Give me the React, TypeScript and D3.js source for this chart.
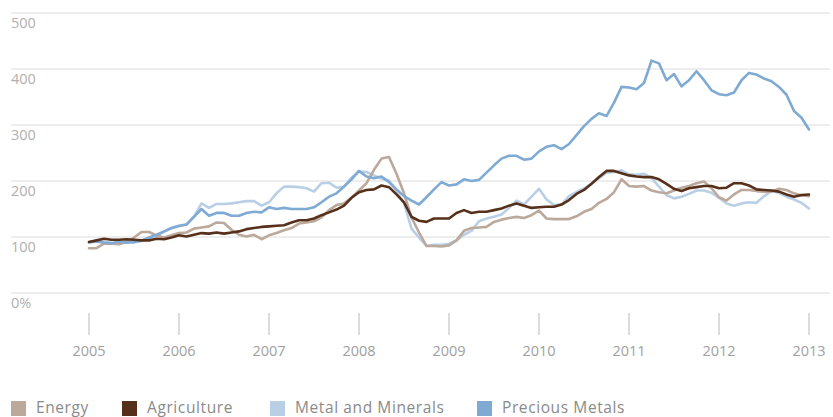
import React from "react";
import * as d3 from "d3";

const startYear = 2005;
const yearTicks = [2005, 2006, 2007, 2008, 2009, 2010, 2011, 2012, 2013];
const yTicks = [0, 100, 200, 300, 400, 500];

const energy = [
  80, 80, 88, 88, 87, 91, 99, 109, 109, 103, 99, 103,
  107, 108, 115, 117, 119, 126, 125, 113, 104, 101, 104, 96,
  103, 107, 112, 116, 124, 126, 128, 135, 148, 157, 160, 170,
  183, 196, 220, 240, 243, 213, 178, 135, 108, 84, 84, 83,
  85, 94, 111, 116, 117, 118, 127, 131, 134, 136, 134, 139,
  147, 133, 132, 132, 132, 137, 145, 150, 161, 168, 180, 203,
  191, 190, 191, 183, 180, 178, 183, 188, 191, 196, 199, 187,
  171, 165, 176, 184, 184, 182, 181, 181, 186, 184, 178, 174,
  173,
];

const agriculture = [
  91, 94, 97, 95, 95, 96, 95, 94, 94, 97, 96, 99,
  103, 101, 104, 107, 106, 108, 106, 108, 110, 114, 116, 118,
  119, 120, 121, 126, 130, 130, 133, 139, 144, 149, 156, 170,
  180, 184, 185, 192, 189, 176, 162, 136, 129, 127, 133, 133,
  133, 143, 148, 143, 145, 145, 148, 151, 156, 160, 156, 152,
  153, 154, 154, 158, 166, 177, 184, 195, 207, 218, 218, 214,
  210, 208, 207, 207, 203, 195, 186, 182, 187, 189, 191, 191,
  187, 188, 196, 196, 192, 185, 184, 183, 181, 176, 172, 175,
  176,
];

const metals = [
  90, 92, 91, 89, 88, 92, 90, 93, 98, 103, 109, 116,
  119, 123, 137, 160, 152, 159, 159, 160, 162, 164, 164, 156,
  162, 178, 190, 190, 189, 187, 181, 196, 197, 188, 190, 206,
  217, 216, 210, 204, 201, 182, 160, 115, 99, 84, 86, 86,
  88, 94, 104, 111, 128, 133, 136, 140, 152, 165, 158, 172,
  186, 167, 157, 158, 173, 180, 187, 195, 205, 215, 216, 219,
  212, 211, 213, 205, 190, 175, 169, 172, 177, 183, 183, 179,
  170, 160, 156, 160, 162, 161, 173, 182, 179, 172, 167, 161,
  151,
];

const precious = [
  91, 92, 90, 89, 92, 90, 91, 94, 99, 104, 110, 116,
  120, 122, 136, 150, 138, 143, 143, 138, 138, 143, 145, 144,
  153, 150, 152, 150, 150, 150, 153, 162, 172, 178, 190, 203,
  218, 208, 205, 208, 198, 185, 173, 165, 158, 171, 185, 198,
  192, 194, 203, 200, 202, 215, 228, 240, 245, 245, 238, 240,
  253, 261, 264, 257, 266, 282, 298, 311, 321, 316, 340, 368,
  367, 364, 375, 415, 410, 380, 391, 369, 380, 396, 380, 362,
  355, 353, 358, 380, 393, 390, 383, 378, 368, 354, 325, 313,
  292,
];

const seriesNames = ["Energy", "Agriculture", "Metal and Minerals", "Precious Metals"];
const seriesColors = ["#bba99b", "#57301b", "#b9cfe6", "#7eaad3"];
const seriesData = [energy, agriculture, metals, precious];
const drawOrder = [2, 0, 3, 1];
const legendX = [11, 122, 270, 477];

export default function App() {
  const W = 833;
  const H = 417;
  const x = d3.scaleLinear().domain([2005, 2013]).range([89, 809]);
  const y = d3.scaleLinear().domain([0, 500]).range([293, 13]);
  const line = d3
    .line<number>()
    .x((_, i) => x(startYear + i / 12))
    .y((v) => y(v))
    .curve(d3.curveLinear);

  const font = "'Open Sans', 'DejaVu Sans', sans-serif";

  return (
    <div style={{ position: "absolute", left: 0, top: 0 }}>
      <svg width={W} height={H} style={{ display: "block", background: "#fff" }}>
        {yTicks.map((t) => (
          <g key={t}>
            <line x1={11} x2={830} y1={y(t)} y2={y(t)} stroke="#dcdcdc" strokeWidth={1} />
            <text
              x={11}
              y={y(t) + 14.5}
              fontFamily={font}
              fontSize={14.5}
              fill="#b0b0b0"
            >
              {t === 0 ? "0%" : String(t)}
            </text>
          </g>
        ))}
        {yearTicks.map((yr) => (
          <g key={yr}>
            <line x1={x(yr)} x2={x(yr)} y1={313} y2={335} stroke="#b8b8b8" strokeWidth={1} />
            <text
              x={x(yr)}
              y={356}
              textAnchor="middle"
              fontFamily={font}
              fontSize={14.5}
              fill="#a0a0a0"
            >
              {yr}
            </text>
          </g>
        ))}
        {drawOrder.map((k) => (
          <path
            key={seriesNames[k]}
            d={line(seriesData[k]) || ""}
            fill="none"
            stroke={seriesColors[k]}
            strokeWidth={2.6}
            strokeLinejoin="round"
            strokeLinecap="round"
          />
        ))}
        {seriesNames.map((name, k) => (
          <g key={name}>
            <rect x={legendX[k]} y={401} width={15} height={15} fill={seriesColors[k]} />
            <text
              x={legendX[k] + 25}
              y={413}
              fontFamily={font}
              fontSize={15.5}
              fill="#8a8a8a"
              letterSpacing={0.6}
            >
              {name}
            </text>
          </g>
        ))}
      </svg>
    </div>
  );
}
